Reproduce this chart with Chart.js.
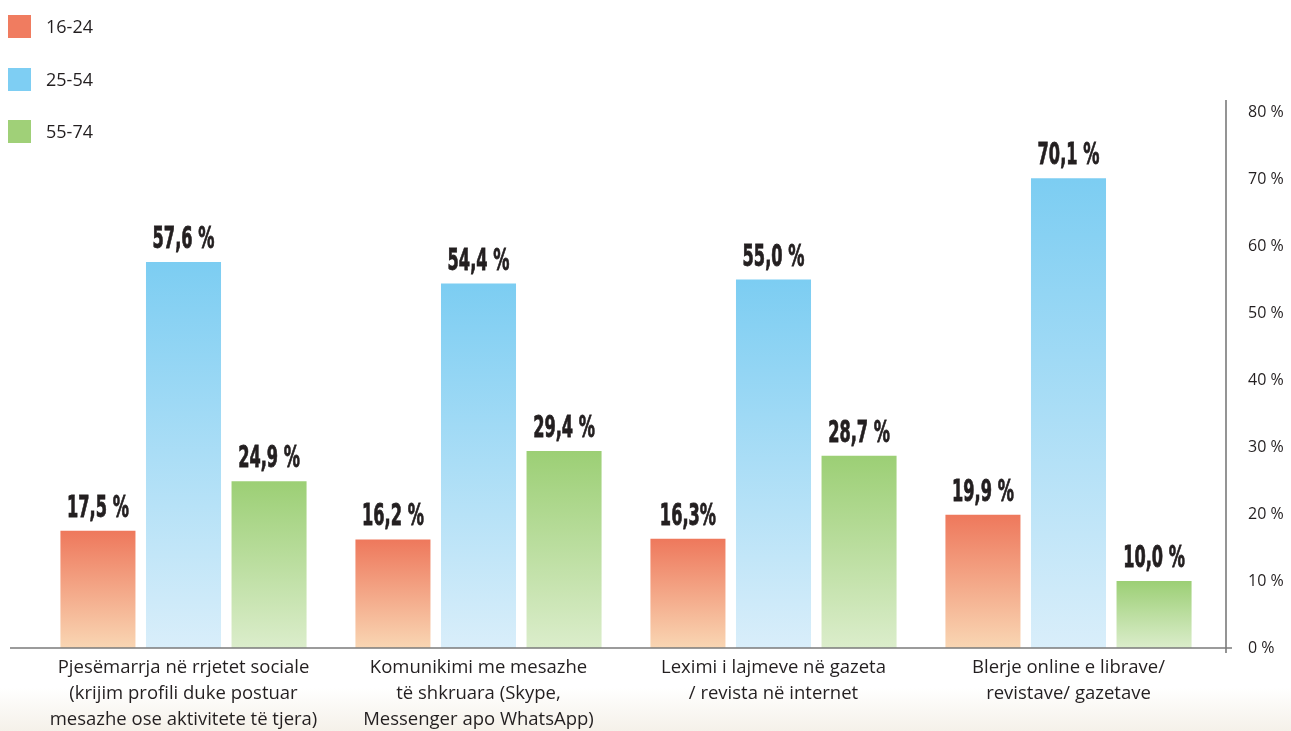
<!DOCTYPE html>
<html>
<head>
<meta charset="utf-8">
<script src="https://cdn.jsdelivr.net/npm/chart.js@4.4.1/dist/chart.umd.min.js"></script>
<style>
  html, body { margin: 0; padding: 0; }
  body {
    width: 1291px; height: 731px; overflow: hidden; position: relative;
    background: linear-gradient(to bottom, #ffffff 0px, #ffffff 688px, #f5f1e9 731px);
    font-family: "Open Sans", sans-serif;
  }
  #wrap { position: absolute; left: 0; top: 0; width: 1291px; height: 731px; }
  #legend { position: absolute; left: 8px; top: 15px; }
  .li { position: absolute; left: 0; white-space: nowrap; height: 23px; }
  .sw { position: absolute; left: 0; top: 0; width: 23px; height: 23px; }
  .lt { position: absolute; left: 38px; top: 0; line-height: 23px; font-size: 18px; color: #231f20; }
</style>
</head>
<body>
<div id="wrap"><canvas id="c" width="1291" height="731"></canvas></div>
<div id="legend"></div>
<script>
// ---- data ----
const categories = [
  ["Pjesëmarrja në rrjetet sociale", "(krijim profili duke postuar", "mesazhe ose aktivitete të tjera)"],
  ["Komunikimi me mesazhe", "të shkruara (Skype,", "Messenger apo WhatsApp)"],
  ["Leximi i lajmeve në gazeta", "/ revista në internet"],
  ["Blerje online e librave/", "revistave/ gazetave"]
];
const seriesNames = ["16-24", "25-54", "55-74"];
const values16_24 = [17.5, 16.2, 16.3, 19.9];
const values25_54 = [57.6, 54.4, 55.0, 70.1];
const values55_74 = [24.9, 29.4, 28.7, 10.0];
const labels16_24 = ["17,5 %", "16,2 %", "16,3%", "19,9 %"];
const labels25_54 = ["57,6 %", "54,4 %", "55,0 %", "70,1 %"];
const labels55_74 = ["24,9 %", "29,4 %", "28,7 %", "10,0 %"];
const yTicks = [0, 10, 20, 30, 40, 50, 60, 70, 80];

// ---- styles ----
const legendColors = ["#f07c60", "#7ecef3", "#a0d078"];
const gradTop = ["#ee785c", "#7ccdf2", "#9ccf75"];
const gradBottom = ["#f9d6b3", "#d9eefa", "#dbedcb"];
const valueLabels = [labels16_24, labels25_54, labels55_74];

function makeBg(i) {
  return function (ctx) {
    const chart = ctx.chart;
    if (!chart.chartArea || ctx.raw === undefined) return legendColors[i];
    const ys = chart.scales.y;
    const yTop = ys.getPixelForValue(ctx.raw);
    const yBot = ys.getPixelForValue(0);
    const g = chart.ctx.createLinearGradient(0, yTop, 0, yBot);
    g.addColorStop(0, gradTop[i]);
    g.addColorStop(1, gradBottom[i]);
    return g;
  };
}

const axesAndLabels = {
  id: 'axesAndLabels',
  afterDatasetsDraw(chart) {
    const c = chart.ctx;
    const ys = chart.scales.y;
    const area = chart.chartArea;
    const zeroY = ys.getPixelForValue(0);
    const axisX = ys.left + 10;
    c.save();
    c.strokeStyle = "#7a7a7a";
    c.lineWidth = 1.6;
    c.beginPath();
    c.moveTo(10, zeroY);
    c.lineTo(axisX + 6, zeroY);
    c.stroke();
    c.beginPath();
    c.moveTo(axisX, area.top - 12);
    c.lineTo(axisX, zeroY + 5);
    c.stroke();
    c.restore();

    chart.data.datasets.forEach((ds, di) => {
      const meta = chart.getDatasetMeta(di);
      meta.data.forEach((el, idx) => {
        const txt = valueLabels[di][idx];
        c.save();
        c.translate(el.x, el.y - 14);
        c.scale(0.6, 1);
        c.font = "bold 30px 'DejaVu Sans Condensed', 'DejaVu Sans'";
        c.fillStyle = "#231f20";
        c.strokeStyle = "#231f20";
        c.lineWidth = 0.8;
        c.textAlign = "center";
        c.textBaseline = "alphabetic";
        c.fillText(txt, 0, 0);
        c.strokeText(txt, 0, 0);
        c.restore();
      });
    });
  }
};

const datasets = [values16_24, values25_54, values55_74].map((vals, i) => ({
  label: seriesNames[i],
  data: vals,
  backgroundColor: makeBg(i),
  borderWidth: 0,
  barPercentage: 0.877,
  categoryPercentage: 0.87
}));

new Chart(document.getElementById('c'), {
  type: 'bar',
  data: { labels: categories, datasets },
  options: {
    responsive: false,
    animation: false,
    devicePixelRatio: 1,
    layout: { padding: { left: 36, top: 112, right: 0, bottom: 0 } },
    plugins: { legend: { display: false }, tooltip: { enabled: false } },
    scales: {
      x: {
        grid: { display: false, drawTicks: false },
        border: { display: false },
        ticks: {
          color: "#231f20",
          font: { family: "'Open Sans'", size: 18.5, lineHeight: 1.4 },
          padding: 7,
          maxRotation: 0, minRotation: 0, autoSkip: false
        },
        afterFit(scale) { scale.height = 83; }
      },
      y: {
        position: 'right',
        min: 0, max: 80,
        afterBuildTicks(scale) { scale.ticks = yTicks.map(v => ({ value: v })); },
        grid: { display: false, drawTicks: false },
        border: { display: false },
        ticks: {
          color: "#231f20",
          font: { family: "'Open Sans'", size: 16 },
          padding: 32,
          callback: v => v + " %"
        },
        afterFit(scale) { scale.width = 75; }
      }
    }
  },
  plugins: [axesAndLabels]
});

// legend
const lg = document.getElementById('legend');
seriesNames.forEach((n, i) => {
  const d = document.createElement('div');
  d.className = 'li';
  d.style.top = [0, 53, 105][i] + 'px';
  d.innerHTML = '<div class="sw" style="background:' + legendColors[i] + '"></div><div class="lt">' + n + '</div>';
  lg.appendChild(d);
});
</script>
</body>
</html>
